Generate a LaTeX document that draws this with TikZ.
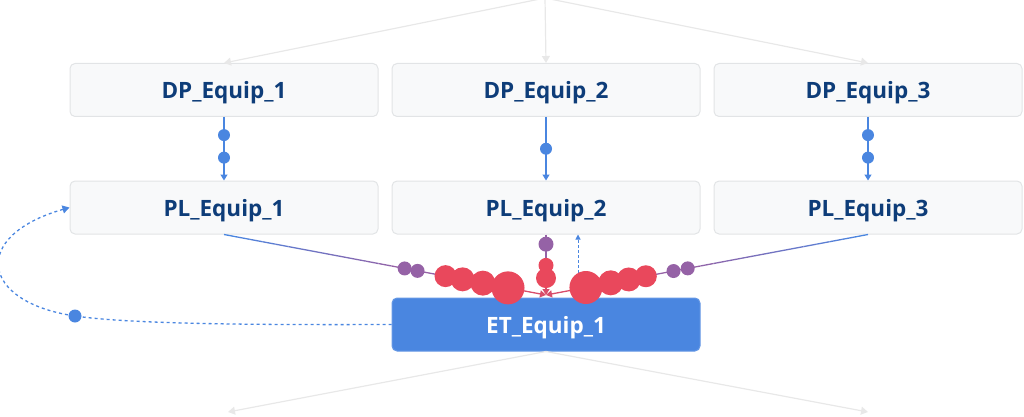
\documentclass[tikz,border=0pt]{standalone}
\usepackage{fontspec}
\setmainfont{Open Sans}
\usetikzlibrary{arrows.meta,calc}
\definecolor{navy}{HTML}{0E3D79}
\definecolor{bblue}{HTML}{4A86E0}
\definecolor{rred}{HTML}{E9485C}
\definecolor{ppurple}{HTML}{9562A6}
\definecolor{boxfill}{HTML}{F8F9FA}
\definecolor{boxline}{HTML}{E2E4E6}
\definecolor{lgrey}{HTML}{E8E8E8}
\tikzset{
  box/.style={draw=boxline, line width=1pt, fill=boxfill, rounded corners=5pt,
    minimum width=308pt, minimum height=53pt, inner sep=0pt,
    text height=18pt, text depth=0pt,
    text=navy, font=\fontsize{22.5}{25}\selectfont\bfseries},
  etbox/.style={box, draw=bblue!85!white, fill=bblue, text=white},
  greyarrow/.style={draw=lgrey, line width=1.2pt, -{Triangle[length=7pt,width=8pt]}},
  bluearrow/.style={draw=bblue, line width=1.2pt, -{Triangle[length=6pt,width=7pt]}},
  bluedash/.style={draw=bblue, line width=1.3pt, dash pattern=on 3pt off 3pt},
  bdot/.style={circle, fill=bblue, inner sep=0pt, minimum size=12pt},
  pdot/.style={circle, fill=ppurple, inner sep=0pt, minimum size=#1},
  rdot/.style={circle, fill=rred, inner sep=0pt, minimum size=#1},
  redtip/.style={-{Triangle[length=6pt,width=7pt]}}
}
\begin{document}
\begin{tikzpicture}[x=1pt,y=-1pt]
\useasboundingbox (0,0) rectangle (1024,417);
% boxes
\node[box] (dp1) at (224,90) {DP\_Equip\_1};
\node[box] (dp2) at (546,90) {DP\_Equip\_2};
\node[box] (dp3) at (868,90) {DP\_Equip\_3};
\node[box] (pl1) at (224,207.5) {PL\_Equip\_1};
\node[box] (pl2) at (546,207.5) {PL\_Equip\_2};
\node[box] (pl3) at (868,207.5) {PL\_Equip\_3};
\node[etbox] (et) at (546,324.5) {ET\_Equip\_1};
% top and bottom grey arrows
\coordinate (src) at (545,-2);
\coordinate (b1) at (228,412);
\coordinate (b2) at (868,412);
\draw[greyarrow] (src) -- (dp1.north);
\draw[greyarrow] (src) -- (dp2.north);
\draw[greyarrow] (src) -- (dp3.north);
\draw[greyarrow] (et.south) -- (b1);
\draw[greyarrow] (et.south) -- (b2);
% DP -> PL
\draw[bluearrow] (dp1.south) -- (pl1.north) node[bdot,pos=0.285]{} node[bdot,pos=0.64]{};
\draw[bluearrow] (dp2.south) -- (pl2.north) node[bdot,pos=0.5]{};
\draw[bluearrow] (dp3.south) -- (pl3.north) node[bdot,pos=0.285]{} node[bdot,pos=0.64]{};
% loop back
\coordinate (loopdot) at (75,316);
\draw[bluedash, -{Triangle[length=7pt,width=8pt]}] (et.west) .. controls (250,325) and (130,324) .. (loopdot) .. controls (-20,302) and (-30,236) .. (pl1.west);
\node[bdot, minimum size=13pt] at (loopdot) {};
% dashed up arrow
\draw[bluedash, line width=1pt, dash pattern=on 2.5pt off 2.5pt, -{Triangle[length=5pt,width=5pt]}] ($(et.north)+(32,0)$) -- ($(pl2.south)+(32,0)$);
% convergence point
\coordinate (conv) at (546,295);
% PL -> ET lines with colour gradient
\foreach \i in {0,...,13}{
  \pgfmathsetmacro{\a}{\i/25}
  \pgfmathsetmacro{\b}{(\i+1)/25}
  \pgfmathsetmacro{\m}{100-\i*100/13}
  \draw[line width=1.3pt, draw=bblue!\m!ppurple] ($(pl1.south)!\a!(conv)$) -- ($(pl1.south)!\b!(conv)$);
  \draw[line width=1.3pt, draw=bblue!\m!ppurple] ($(pl3.south)!\a!(conv)$) -- ($(pl3.south)!\b!(conv)$);
}
\draw[line width=1.3pt, draw=ppurple] ($(pl1.south)!0.56!(conv)$) -- ($(pl1.south)!0.8!(conv)$);
\draw[line width=1.3pt, draw=ppurple] ($(pl3.south)!0.56!(conv)$) -- ($(pl3.south)!0.8!(conv)$);
\draw[line width=1.3pt, draw=rred!80!ppurple, redtip] ($(pl1.south)!0.8!(conv)$) -- (conv);
\draw[line width=1.3pt, draw=rred!80!ppurple, redtip] ($(pl3.south)!0.8!(conv)$) -- (conv);
\draw[line width=1.3pt, draw=ppurple] (pl2.south) -- ($(pl2.south)!0.45!(conv)$);
\draw[line width=1.3pt, draw=rred!80!ppurple, redtip] ($(pl2.south)!0.45!(conv)$) -- (conv);
% dots on left line
\node[pdot=14pt] at ($(pl1.south)!0.561!(conv)$) {};
\node[pdot=14pt] at ($(pl1.south)!0.601!(conv)$) {};
\node[rdot=22pt] at ($(pl1.south)!0.688!(conv)$) {};
\node[rdot=24pt] at ($(pl1.south)!0.741!(conv)$) {};
\node[rdot=25pt] at ($(pl1.south)!0.804!(conv)$) {};
\node[rdot=33pt] at ($(pl1.south)!0.882!(conv)$) {};
% dots on right line
\node[pdot=14pt] at ($(pl3.south)!0.560!(conv)$) {};
\node[pdot=14pt] at ($(pl3.south)!0.604!(conv)$) {};
\node[rdot=22pt] at ($(pl3.south)!0.690!(conv)$) {};
\node[rdot=24pt] at ($(pl3.south)!0.743!(conv)$) {};
\node[rdot=25pt] at ($(pl3.south)!0.799!(conv)$) {};
\node[rdot=33pt] at ($(pl3.south)!0.876!(conv)$) {};
% dots on centre line
\node[pdot=15pt] at ($(pl2.south)!0.16!(conv)$) {};
\node[rdot=15pt] at ($(pl2.south)!0.51!(conv)$) {};
\node[rdot=20pt] at ($(pl2.south)!0.72!(conv)$) {};
\end{tikzpicture}
\end{document}
